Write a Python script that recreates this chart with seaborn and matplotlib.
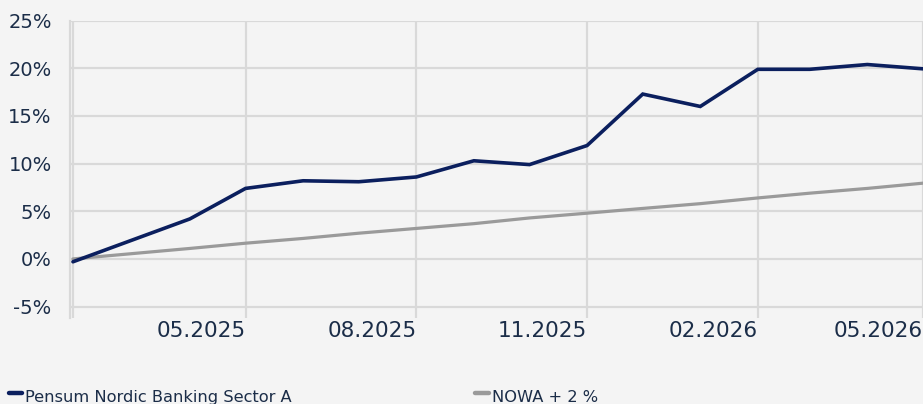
import matplotlib
matplotlib.use("Agg")
import matplotlib.pyplot as plt
import matplotlib.dates as mdates
from matplotlib.lines import Line2D
from matplotlib.ticker import FixedLocator, FuncFormatter
import seaborn as sns
import pandas as pd

# ---- data ----
dates = ["2025-01-28", "2025-04-01", "2025-05-01", "2025-06-01", "2025-07-01",
         "2025-08-01", "2025-09-01", "2025-10-01", "2025-11-01", "2025-12-01",
         "2026-01-01", "2026-02-01", "2026-03-01", "2026-04-01", "2026-05-01"]
fund = [-0.3, 4.2, 7.4, 8.2, 8.1, 8.6, 10.3, 9.9, 11.9, 17.3, 16.0, 19.9, 19.9, 20.4, 19.95]
bench = [0.0, 1.1, 1.65, 2.15, 2.7, 3.2, 3.7, 4.3, 4.8, 5.3, 5.8, 6.4, 6.9, 7.4, 7.95]
series_names = ["Pensum Nordic Banking Sector A", "NOWA + 2 %"]
x_ticks = ["2025-05-01", "2025-08-01", "2025-11-01", "2026-02-01", "2026-05-01"]
y_ticks = [-5, 0, 5, 10, 15, 20, 25]

colors = ["#0b1f5e", "#9a9a9a"]
bg = "#f4f4f4"
grid_c = "#d9d9d9"
text_c = "#1b2d48"

df = pd.DataFrame({
    "date": pd.to_datetime(dates * 2),
    "value": fund + bench,
    "series": [series_names[0]] * len(dates) + [series_names[1]] * len(dates),
})

sns.set_theme(style="white")
plt.rcParams["font.family"] = ["DejaVu Sans"]

fig = plt.figure(figsize=(9.23, 4.04), dpi=100, facecolor=bg)
ax = fig.add_axes([70 / 923, 1 - 318 / 404, 1 - 70 / 923, (318 - 20.7) / 404])
ax.set_facecolor(bg)

# grid
ax.set_axisbelow(True)
ax.grid(True, axis="both", color=grid_c, linewidth=1.6)

sns.lineplot(data=df, x="date", y="value", hue="series", hue_order=series_names[::-1],
             palette={series_names[0]: colors[0], series_names[1]: colors[1]},
             linewidth=2.6, ax=ax, legend=False, zorder=3)
for ln in ax.lines:
    ln.set_solid_joinstyle("miter")
    if ln.get_color() == colors[1]:
        ln.set_linewidth(2.3)

start = pd.Timestamp(dates[0])
ax.set_xlim(start - pd.Timedelta(days=1.6), pd.Timestamp(dates[-1]))
ax.set_ylim(-6.2, 25)

ax.axvline(start, color=grid_c, linewidth=1.6, zorder=1)

ax.xaxis.set_major_locator(FixedLocator(mdates.date2num(pd.to_datetime(x_ticks))))
ax.xaxis.set_major_formatter(mdates.DateFormatter("%m.%Y"))
ax.yaxis.set_major_locator(FixedLocator(y_ticks))
ax.yaxis.set_major_formatter(FuncFormatter(lambda v, p: f"{int(round(v))}%"))

ax.tick_params(axis="y", length=11, width=1.6, color=grid_c, pad=2.2,
               labelsize=14, labelcolor=text_c)
ax.tick_params(axis="x", length=0, pad=2.5, labelsize=15.6, labelcolor=text_c)
for lbl in ax.get_xticklabels():
    lbl.set_horizontalalignment("right")

for s in ["top", "right", "bottom"]:
    ax.spines[s].set_visible(False)
ax.spines["left"].set_color(grid_c)
ax.spines["left"].set_linewidth(1.6)
ax.set_xlabel("")
ax.set_ylabel("")

# legend (manual, bottom)
leg_y = 1 - 393 / 404
fig.add_artist(Line2D([9 / 923, 22 / 923], [leg_y, leg_y], color=colors[0], linewidth=3.2,
                      transform=fig.transFigure))
fig.text(25 / 923, 1 - 402 / 404, series_names[0], color=text_c, fontsize=11.7, va="baseline")
fig.add_artist(Line2D([475 / 923, 489 / 923], [leg_y, leg_y], color=colors[1], linewidth=3.2,
                      transform=fig.transFigure))
fig.text(492 / 923, 1 - 402 / 404, series_names[1], color=text_c, fontsize=11.7, va="baseline")

fig.savefig("out.png", dpi=100, facecolor=bg)
